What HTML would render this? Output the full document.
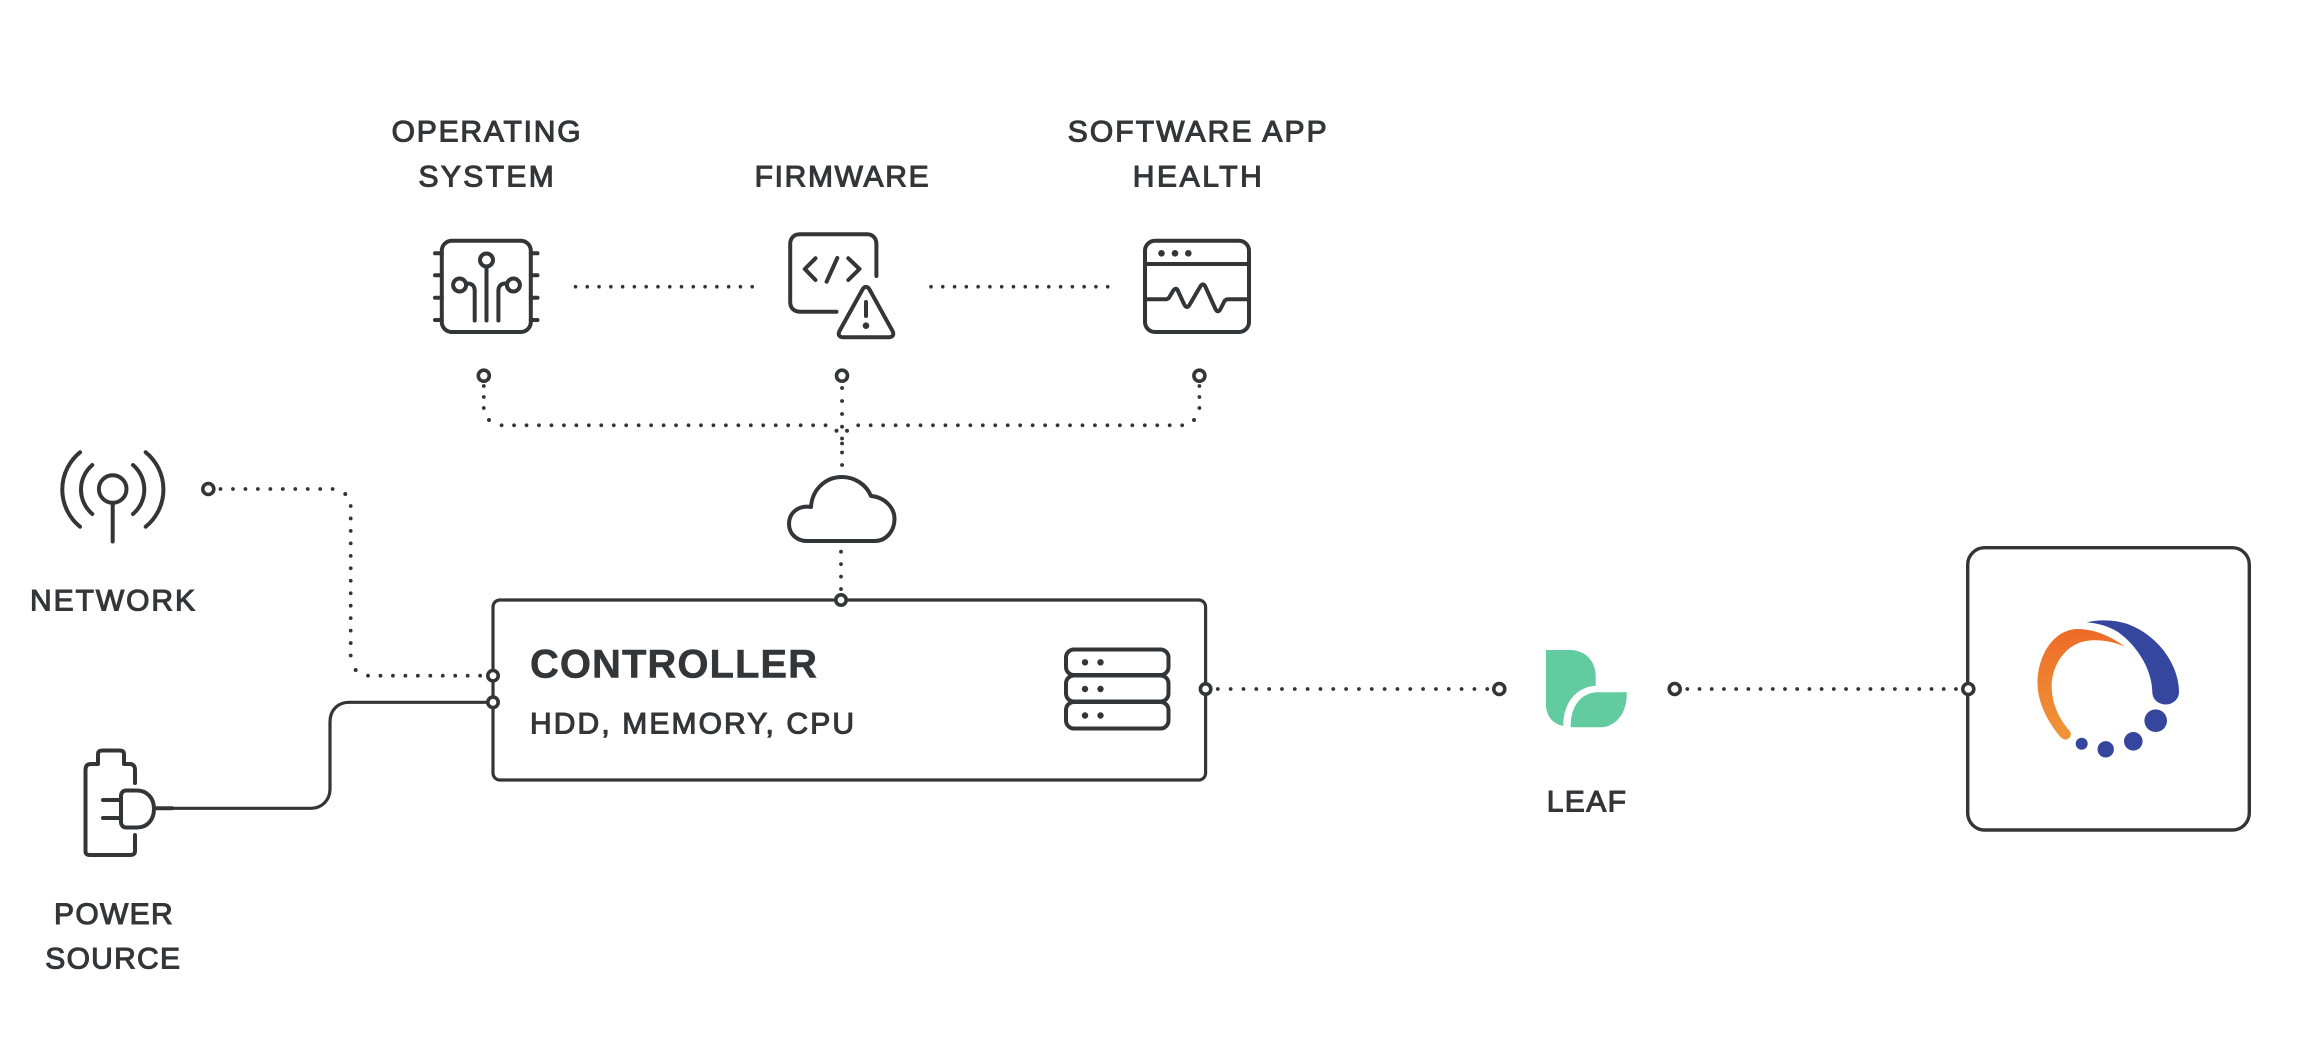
<!DOCTYPE html>
<html>
<head>
<meta charset="utf-8">
<style>
html,body{margin:0;padding:0;background:#fff;width:2304px;height:1060px;overflow:hidden}
svg{display:block}
text{font-family:"Liberation Sans",Arial,sans-serif;fill:#333639;stroke:#333639;stroke-width:1.1px}
text.b{stroke-width:.5px}
.s{fill:none;stroke:#333639;stroke-width:4;stroke-linecap:round;stroke-linejoin:round}
.t{fill:none;stroke:#333639;stroke-width:3.2;stroke-linecap:round;stroke-linejoin:round}
.d{fill:none;stroke:#333639;stroke-width:3.8;stroke-linecap:round;stroke-dasharray:.01 12.45}
.h{fill:none;stroke:#333639;stroke-width:3.6;stroke-linecap:round;stroke-dasharray:.01 11.77}
.v{fill:none;stroke:#333639;stroke-width:3.8;stroke-linecap:round;stroke-dasharray:.01 11}
.n{fill:#fff;stroke:#333639;stroke-width:3.6}
.f{fill:#333639;stroke:none}
</style>
</head>
<body>
<svg width="2304" height="1060" viewBox="0 0 2304 1060" xmlns="http://www.w3.org/2000/svg">
<rect width="2304" height="1060" fill="#fff"/>

<!-- Labels -->
<text x="391.6" y="141.5" font-size="30" textLength="189" lengthAdjust="spacing">OPERATING</text>
<text x="418.5" y="186.5" font-size="30" textLength="135.3" lengthAdjust="spacing">SYSTEM</text>
<text x="754.6" y="186.5" font-size="30" textLength="174" lengthAdjust="spacing">FIRMWARE</text>
<text x="1067.7" y="141.5" font-size="30" textLength="259" lengthAdjust="spacing">SOFTWARE APP</text>
<text x="1132.8" y="186.5" font-size="30" textLength="129" lengthAdjust="spacing">HEALTH</text>
<text x="30" y="610.5" font-size="30" textLength="165" lengthAdjust="spacing">NETWORK</text>
<text x="54" y="924" font-size="30" textLength="118.7" lengthAdjust="spacing">POWER</text>
<text x="45.3" y="968.5" font-size="30" textLength="134.7" lengthAdjust="spacing">SOURCE</text>
<text x="1546.7" y="811.5" font-size="30" textLength="79.3" lengthAdjust="spacing">LEAF</text>
<text class="b" x="530" y="677.5" font-size="40" font-weight="700" textLength="287" lengthAdjust="spacing">CONTROLLER</text>
<text x="530" y="733.5" font-size="30" textLength="324" lengthAdjust="spacing">HDD, MEMORY, CPU</text>

<!-- Chip icon -->
<rect class="s" x="441.8" y="240.7" width="89" height="91.3" rx="10"/>
<path class="s" d="M435 253.3H441.8M435 275.3H441.8M435 297.7H441.8M435 320H441.8M530.8 253.3H537.5M530.8 275.3H537.5M530.8 297.7H537.5M530.8 320H537.5"/>
<circle class="s" cx="486.5" cy="260" r="6.5"/>
<circle class="s" cx="459.6" cy="285" r="6.5"/>
<circle class="s" cx="513.4" cy="285" r="6.5"/>
<path class="s" d="M486.5 267V320.5M466.5 283.5C472 283 474.7 286 474.7 291V320.5M506.5 283.5C501 283 498.4 286 498.4 291V320.5"/>

<!-- Firmware icon -->
<path class="s" d="M876.4 276V244C876.4 238 872.5 234.3 867 234.3H800C794 234.3 790.2 238 790.2 244V302C790.2 308 794 311.7 800 311.7H836.5"/>
<path class="s" d="M815.5 258.3L804.8 269L815.5 280M848.3 258.3L859.5 269L848.3 280M837.3 258L826.6 281.7"/>
<path class="s" d="M862.5 289.5C864.5 286 867.5 286 869.5 289.5L892.5 331C894.5 335 892.5 337.3 888.5 337.3H843.5C839.5 337.3 837.5 335 839.5 331Z"/>
<path class="s" d="M866 302V316"/>
<circle class="f" cx="866" cy="325.7" r="3.3"/>

<!-- App health icon -->
<rect class="s" x="1145" y="240.7" width="104" height="91.3" rx="10"/>
<path class="s" d="M1145 264H1249"/>
<circle class="f" cx="1161.5" cy="253.3" r="3.3"/>
<circle class="f" cx="1175" cy="253.3" r="3.3"/>
<circle class="f" cx="1188.3" cy="253.3" r="3.3"/>
<path class="s" d="M1146 299.3H1166C1168 299.3 1169 298 1170 296L1173 291C1175 288 1177 288 1178 291L1184 304C1186 308 1188 308 1190 304L1200 287C1202 283.5 1204 283.5 1205.5 287L1215 308C1217 312.5 1219 312.5 1221 308L1224 302C1225 300 1226 299.3 1228 299.3H1248"/>

<!-- Row connectors -->
<path class="h" d="M575.5 286.7H753"/>
<path class="h" d="M931 286.7H1108.5"/>

<!-- Top bus -->
<path class="v" d="M483.8 386V409"/>
<circle class="f" cx="489" cy="420" r="2"/>
<path class="d" d="M501.6 425.3H830"/>
<path class="d" d="M858.2 425.3H1183"/>
<circle class="f" cx="1194" cy="420" r="2"/>
<path class="v" d="M1199.4 386V409"/>
<path class="s" style="stroke-width:3.8" d="M842 388H842.1M842 401H842.1M842 414H842.1M842 426.7H842.1M842 438.5H842.1M842 443.5H842.1M842 452.5H842.1M842 465H842.1M842 477H842.1"/>
<circle class="f" cx="836.5" cy="430.7" r="2"/>
<circle class="f" cx="847" cy="430.7" r="2"/>
<circle class="n" cx="483.8" cy="375.7" r="5.5"/>
<circle class="n" cx="842" cy="375.7" r="5.5"/>
<circle class="n" cx="1199.4" cy="375.7" r="5.5"/>

<!-- Cloud -->
<path class="s" transform="translate(-2 0)" d="M809 541H877C888 541 896.5 531 896.5 519C896.5 507 886 497 873 496C868 484 856 477 844 477C827 477 814 490 813 507C800 505 791 513 791 524C791 534 799 541 809 541Z"/>
<path class="d" d="M841 551.7V590"/>

<!-- Network icon -->
<circle class="s" cx="112.7" cy="489" r="13.8"/>
<path class="s" d="M112.7 503V541.5"/>
<path class="s" d="M92.3 465A32.2 32.2 0 0 0 92.3 514M133 465A32.2 32.2 0 0 1 133 514M80 452.3A47.9 47.9 0 0 0 80 526.7M145.7 452.3A47.9 47.9 0 0 1 145.7 526.7"/>

<!-- Network connector -->
<path class="d" d="M220.5 489H340"/>
<circle class="f" cx="345.3" cy="494" r="2"/>
<path class="d" d="M350.7 506V660"/>
<circle class="f" cx="355.7" cy="670" r="2"/>
<path class="d" d="M368 675.7H485"/>
<circle class="n" cx="208.3" cy="489" r="5.5"/>

<!-- Power icon -->
<path class="s" d="M135 783V770C135 766 133 764 130 764H124V754C124 751 122 750.5 119 750.5H103C100 750.5 98 751 98 754V764H91C87 764 85.5 766 85.5 770V851C85.5 854 87 855 90 855H130C133 855 135 854 135 851V835"/>
<path class="s" d="M103 800H121M103 818H121"/>
<path class="s" d="M121 796C121 793 123 790.5 126 790.5H137C147 790.5 154 798 154 809C154 820 147 827.5 137 827.5H126C123 827.5 121 825 121 822Z"/>
<path class="s" d="M155 808.3H172"/>
<path class="t" d="M172 808.3H311C322 808.3 330 800 330 789V722C330 710 338 702.3 349 702.3H493"/>

<!-- Controller -->
<rect x="493" y="600" width="712.6" height="180" rx="7" fill="none" stroke="#333639" stroke-width="3.2"/>
<circle class="n" cx="493" cy="675.7" r="5.2"/>
<circle class="n" cx="493" cy="702.3" r="5.2"/>
<circle class="n" cx="841" cy="600" r="5.2"/>
<circle class="n" cx="1205.6" cy="689" r="5.2"/>

<!-- Server icon -->
<rect class="s" x="1066" y="649.5" width="102.5" height="25.5" rx="8"/>
<rect class="s" x="1066" y="675.5" width="102.5" height="26" rx="8"/>
<rect class="s" x="1066" y="702" width="102.5" height="26.5" rx="8"/>
<circle class="f" cx="1085" cy="662.3" r="3.2"/><circle class="f" cx="1100.5" cy="662.3" r="3.2"/>
<circle class="f" cx="1085" cy="689" r="3.2"/><circle class="f" cx="1100.5" cy="689" r="3.2"/>
<circle class="f" cx="1085" cy="715.5" r="3.2"/><circle class="f" cx="1100.5" cy="715.5" r="3.2"/>

<!-- Right connectors -->
<path class="d" style="stroke-dasharray:.01 12.82" d="M1217.8 689H1488.5"/>
<circle class="n" cx="1499.3" cy="689" r="5.5"/>
<path class="d" style="stroke-dasharray:.01 12.2" d="M1687.3 689H1957"/>
<circle class="n" cx="1674.7" cy="689" r="5.5"/>

<!-- Leaf -->
<path fill="#62cca0" d="M1546 650H1570C1585 650 1595.7 661 1595.7 676V685.7C1576 687 1563 703 1563.3 726C1553 724 1546 716 1546 705Z"/>
<path fill="#62cca0" d="M1570.7 727.3C1570 708 1580 693 1597 692.3H1626.7V695C1626.7 714 1615 727.3 1600 727.3Z"/>

<!-- Logo box -->
<rect x="1967.7" y="547.7" width="281.6" height="282.3" rx="17" fill="none" stroke="#333639" stroke-width="3.4"/>
<circle class="n" cx="1968.3" cy="689" r="5.5"/>

<!-- Logo -->
<defs>
<linearGradient id="og" x1="0" y1="0" x2="0" y2="1">
<stop offset="0" stop-color="#ed6a27"/>
<stop offset=".45" stop-color="#ee8030"/>
<stop offset="1" stop-color="#f09538"/>
</linearGradient>
</defs>
<path fill="#35469e" d="M2086.7 622.3C2100 619 2118 620 2130 625C2158 636 2179 665 2179 692C2179 699 2173 704.5 2165.7 704.5C2158 704.5 2152.3 699 2152.3 692C2152 672 2140 648 2118 632C2108 626 2098 623.5 2086.7 622.3Z"/>
<path fill="url(#og)" d="M2125 646.7C2112 637 2095 629 2078 629C2054 629 2037.5 655 2037.5 683C2037.5 703 2048 722 2060 736.5C2064 741 2068 740 2070 737C2071.5 734 2071 732 2068 729C2058 717 2051.7 702 2051.7 686.7C2051.7 664 2067 642 2090 640.5C2103 639.5 2114 642 2125 646.7Z"/>
<circle cx="2155.7" cy="720.7" r="11.3" fill="#35469e"/>
<circle cx="2133.3" cy="741.3" r="9.3" fill="#35469e"/>
<circle cx="2105.7" cy="749.3" r="8.2" fill="#35469e"/>
<circle cx="2081.7" cy="743.7" r="6" fill="#35469e"/>
</svg>
</body>
</html>
